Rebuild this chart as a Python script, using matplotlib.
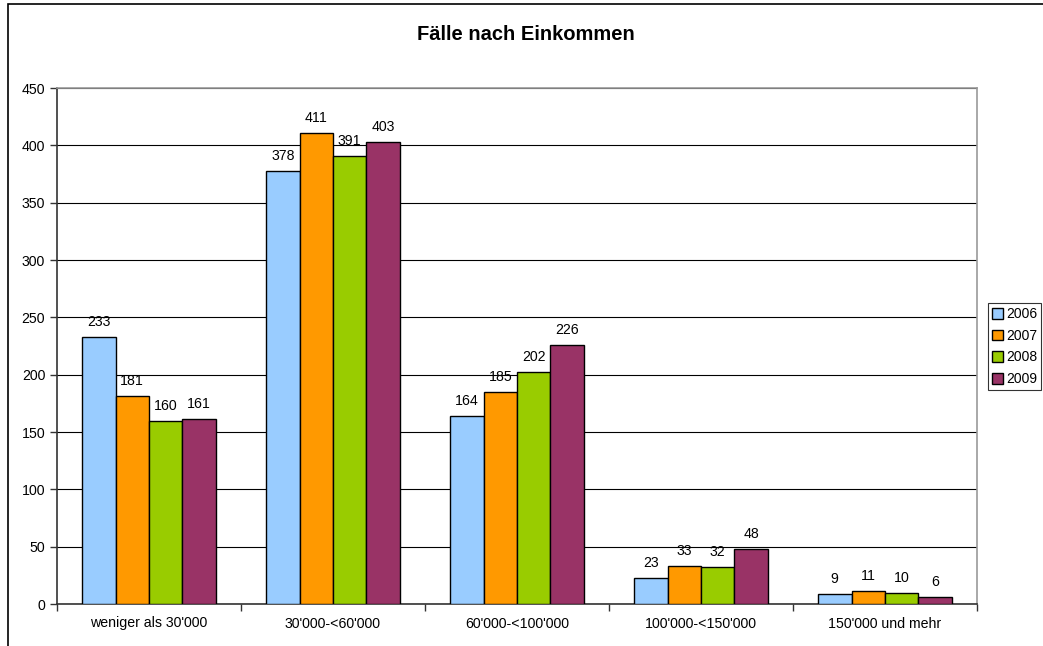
import numpy as np
import matplotlib.pyplot as plt
from matplotlib.patches import Rectangle

plt.rcParams['font.family'] = ['Liberation Sans', 'DejaVu Sans']

categories = ["weniger als 30'000", "30'000-<60'000", "60'000-<100'000",
              "100'000-<150'000", "150'000 und mehr"]
years = ['2006', '2007', '2008', '2009']
v2006 = [233, 378, 164, 23, 9]
v2007 = [181, 411, 185, 33, 11]
v2008 = [160, 391, 202, 32, 10]
v2009 = [161, 403, 226, 48, 6]
colors = ['#99CCFF', '#FF9900', '#99CC00', '#993366']

fig = plt.figure(figsize=(10.43, 6.46), dpi=100)
W, H = 1043, 646
# plot area in pixels: left 57, right 977, top 88, bottom 604
ax = fig.add_axes([57 / W, 1 - 604 / H, (977 - 57) / W, (604 - 88) / H])

# outer chart frame
fig.patches.append(Rectangle((8 / W, -0.1), 1.2, 1 - 4 / H + 0.1, transform=fig.transFigure,
                             fill=False, edgecolor='black', linewidth=1.2))

x = np.arange(len(categories))
w = 0.182
series = [v2006, v2007, v2008, v2009]
for i, (vals, c, lab) in enumerate(zip(series, colors, years)):
    pos = x + (i - 1.5) * w
    ax.bar(pos, vals, width=w, color=c, edgecolor='black', linewidth=1.0, label=lab, zorder=3)
    for p, v in zip(pos, vals):
        ax.text(p, v + 7, str(v), ha='center', va='bottom', fontsize=10.2, zorder=4)

ax.set_xlim(-0.5, len(categories) - 0.5)
ax.set_ylim(0, 450)
ax.set_yticks(range(0, 451, 50))
ax.yaxis.grid(True, color='black', linewidth=0.8, zorder=0)
ax.set_axisbelow(True)

ax.set_xticks(np.arange(-0.5, len(categories), 1.0))
ax.set_xticklabels([])
ax.set_xticks(x, minor=True)
ax.set_xticklabels(categories, minor=True, fontsize=10.2)
ax.tick_params(axis='x', which='minor', length=0, pad=9)
ax.tick_params(axis='x', which='major', length=5, direction='out', width=1, color='#333333')
ax.tick_params(axis='y', length=5, direction='out', labelsize=10.2, width=1, color='#333333')

for s in ['left', 'bottom']:
    ax.spines[s].set_color('#333333')
    ax.spines[s].set_linewidth(1.2)
for s in ['top', 'right']:
    ax.spines[s].set_color('#999999')
    ax.spines[s].set_linewidth(1.2)

fig.text(526 / W, 1 - 35 / H, 'Fälle nach Einkommen', ha='center', va='center',
         fontsize=14.5, fontweight='bold')

leg = ax.legend(loc='upper left', bbox_to_anchor=(988 / W, 1 - 303 / H), bbox_transform=fig.transFigure,
                frameon=True, fancybox=False, edgecolor='black', fontsize=10,
                handlelength=0.8, handleheight=0.8, handletextpad=0.2, labelspacing=0.55,
                borderpad=0.3, borderaxespad=0)
leg.get_frame().set_linewidth(0.8)

plt.savefig('out.png', dpi=100)
